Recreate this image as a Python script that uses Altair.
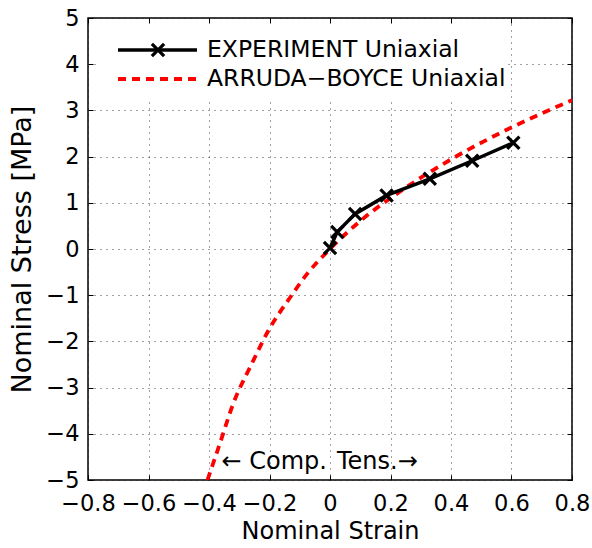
import altair as alt
import pandas as pd

# Experiment data
exp_strain = [0.0, 0.024, 0.083, 0.187, 0.33, 0.47, 0.606]
exp_stress = [0.02, 0.37, 0.76, 1.16, 1.52, 1.91, 2.30]

# Arruda-Boyce curve
ab_strain = [-0.405, -0.364, -0.32, -0.259, -0.204, -0.132, -0.077, 0.0, 0.099, 0.242, 0.408, 0.606, 0.8]
ab_stress = [-5.0, -4.21, -3.35, -2.49, -1.77, -1.05, -0.55, 0.0, 0.60, 1.29, 1.97, 2.65, 3.22]

x_ticks = [-0.8, -0.6, -0.4, -0.2, 0.0, 0.2, 0.4, 0.6, 0.8]
y_ticks = [-5, -4, -3, -2, -1, 0, 1, 2, 3, 4, 5]

legend_labels = ["EXPERIMENT Uniaxial", "ARRUDA\u2212BOYCE Uniaxial"]
ann_texts = ["\u2190 Comp.", "Tens.\u2192"]
ann_x = [-0.01, 0.023]
ann_y = [-4.6, -4.6]

FONT = "DejaVu Sans"
W, H = 484, 462

exp_df = pd.DataFrame({"strain": exp_strain, "stress": exp_stress})
ab_df = pd.DataFrame({"strain": ab_strain, "stress": ab_stress})

xscale = alt.Scale(domain=[-0.8, 0.8], nice=False, zero=False)
yscale = alt.Scale(domain=[-5, 5], nice=False, zero=False)

axis_x_main = alt.Axis(orient="bottom", values=x_ticks, format="~g", grid=True,
                       gridDash=[1, 5], gridColor="#222", gridWidth=1, gridOpacity=0.85,
                       ticks=False, domain=False, labelFontSize=22.5, labelPadding=12,
                       labelFont=FONT, labelColor="black", title="Nominal Strain",
                       titleFont=FONT, titleFontSize=24, titleFontWeight="normal",
                       titleColor="black", titlePadding=5, labelFlush=False)
axis_y_main = alt.Axis(orient="left", values=y_ticks, format="~g", grid=True,
                       gridDash=[1, 5], gridColor="#222", gridWidth=1, gridOpacity=0.85,
                       ticks=False, domain=False, labelFontSize=22.5, labelPadding=9,
                       labelFont=FONT, labelColor="black", title="Nominal Stress [MPa]",
                       titleFont=FONT, titleFontSize=27, titleFontWeight="normal",
                       titleColor="black", titlePadding=9, labelFlush=False)


def tick_axis(orient, values):
    return alt.Axis(orient=orient, values=values, offset=-5, tickSize=5, tickWidth=1,
                    tickColor="black", labels=False, domain=False, grid=False, title=None)


red = alt.Chart(ab_df).mark_line(color="#ff0000", strokeWidth=3.8, strokeDash=[8, 6],
                                   interpolate="monotone", clip=True).encode(
    x=alt.X("strain:Q", scale=xscale, axis=axis_x_main),
    y=alt.Y("stress:Q", scale=yscale, axis=axis_y_main),
    order="strain:Q",
)

black = alt.Chart(exp_df).mark_line(color="black", strokeWidth=3.5).encode(
    x=alt.X("strain:Q", scale=xscale, axis=tick_axis("bottom", x_ticks)),
    y=alt.Y("stress:Q", scale=yscale, axis=tick_axis("left", y_ticks)),
    order="strain:Q",
)

XPATH = "M-1,-1L1,1M-1,1L1,-1"
pts = alt.Chart(exp_df).mark_point(shape=XPATH, size=150, filled=False, color="black",
                                    strokeWidth=3.2, opacity=1).encode(
    x=alt.X("strain:Q", scale=xscale, axis=tick_axis("top", x_ticks)),
    y=alt.Y("stress:Q", scale=yscale, axis=tick_axis("right", y_ticks)),
)

ann_df = pd.DataFrame({"x": ann_x, "y": ann_y, "t": ann_texts})
ann_left = alt.Chart(ann_df.iloc[[0]]).mark_text(align="right", baseline="middle",
                                                  font=FONT, fontSize=24, color="black").encode(
    x=alt.X("x:Q", scale=xscale, axis=None), y=alt.Y("y:Q", scale=yscale, axis=None), text="t:N")
ann_right = alt.Chart(ann_df.iloc[[1]]).mark_text(align="left", baseline="middle",
                                                   font=FONT, fontSize=24, color="black").encode(
    x=alt.X("x:Q", scale=xscale, axis=None), y=alt.Y("y:Q", scale=yscale, axis=None), text="t:N")

one = alt.Data(values=[{}])
leg_bg = alt.Chart(one).mark_rect(fill="white").encode(
    x=alt.value(9), x2=alt.value(420), y=alt.value(6), y2=alt.value(81))
leg_l1 = alt.Chart(one).mark_rule(color="black", strokeWidth=3.5).encode(
    x=alt.value(30), x2=alt.value(109), y=alt.value(32))
leg_p1 = alt.Chart(one).mark_point(shape=XPATH, size=150, filled=False, color="black",
                                   strokeWidth=3.2, opacity=1).encode(
    x=alt.value(70), y=alt.value(32))
leg_l2 = alt.Chart(one).mark_rule(color="#ff0000", strokeWidth=3.8, strokeDash=[8, 6]).encode(
    x=alt.value(30), x2=alt.value(109), y=alt.value(61))
leg_t1 = alt.Chart(one).mark_text(align="left", baseline="middle", font=FONT, fontSize=23.5,
                                  color="black", text=legend_labels[0]).encode(
    x=alt.value(119), y=alt.value(32))
leg_t2 = alt.Chart(one).mark_text(align="left", baseline="middle", font=FONT, fontSize=23.5,
                                  color="black", text=legend_labels[1]).encode(
    x=alt.value(119), y=alt.value(61))

chart = alt.layer(
    red, black, pts, ann_left, ann_right,
    leg_bg, leg_l1, leg_p1, leg_l2, leg_t1, leg_t2,
).resolve_axis(x="independent", y="independent").properties(
    width=W, height=H,
    autosize=alt.AutoSizeParams(type="none"),
    padding={"left": 88, "top": 18, "right": 20, "bottom": 68},
    background="white",
).configure_view(stroke="black", strokeWidth=1.5)

chart.save("out.html", embed_options={"renderer": "svg", "actions": False})
